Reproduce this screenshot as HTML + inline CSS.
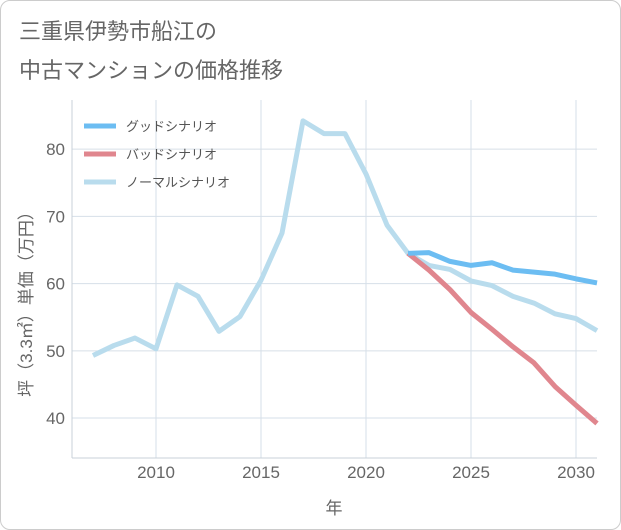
<!DOCTYPE html>
<html><head><meta charset="utf-8"><style>
body{margin:0;background:#fff;font-family:"Liberation Sans","Noto Sans CJK JP",sans-serif;}
#wrap{position:relative;width:619px;height:528px;border:1px solid #ccc;border-radius:10px;background:#fff;overflow:hidden}
.t{position:absolute;left:18px;font-size:22px;color:#666;}
</style></head><body>
<div id="wrap">
<div class="t" style="top:13px">三重県伊勢市船江の</div>
<div class="t" style="top:52px">中古マンションの価格推移</div>
<svg id="c" width="621" height="530" style="position:absolute;left:-1px;top:-1px"></svg>
</div>
<script>
const years=[2007,2008,2009,2010,2011,2012,2013,2014,2015,2016,2017,2018,2019,2020,2021,2022,2023,2024,2025,2026,2027,2028,2029,2030,2031];
const normal=[49.3,50.8,51.9,50.3,59.8,58.1,52.9,55.1,60.5,67.5,84.2,82.3,82.3,76.3,68.7,64.5,62.7,62.1,60.4,59.7,58.1,57.1,55.5,54.8,53.0];
const fYears=[2022,2023,2024,2025,2026,2027,2028,2029,2030,2031];
const good=[64.5,64.6,63.3,62.7,63.1,62.0,61.7,61.4,60.7,60.1];
const bad=[64.5,62.0,59.1,55.7,53.2,50.6,48.2,44.7,41.9,39.2];
const xTicks=[2010,2015,2020,2025,2030];
const yTicks=[40,50,60,70,80];
const L=72,R=597,T=100,B=458;
const x=v=>L+(v-2006)*(R-L)/25;
const y=v=>B-(v-34.06)*(B-T)/(87.3-34.06);
const svg=document.getElementById('c');const NS='http://www.w3.org/2000/svg';
function mk(t,a,p){const e=document.createElementNS(NS,t);for(const k in a)e.setAttribute(k,a[k]);(p||svg).appendChild(e);return e;}
const grid=mk('g',{});


xTicks.forEach(v=>{mk('line',{x1:x(v),x2:x(v),y1:T,y2:B,stroke:'#d6dfe8'},grid);
const t=mk('text',{x:x(v),y:478,'text-anchor':'middle','font-size':17,fill:'#666'});t.textContent=v;

});
yTicks.forEach(v=>{mk('line',{x1:L,x2:R,y1:y(v),y2:y(v),stroke:'#d6dfe8'},grid);
const t=mk('text',{x:65,y:y(v)+6,'text-anchor':'end','font-size':17,fill:'#666'});t.textContent=v;

});
mk('line',{x1:L,x2:L,y1:T,y2:B,stroke:'#c8d0d8'});
mk('line',{x1:L,x2:R,y1:B,y2:B,stroke:'#c8d0d8'});
const xt=mk('text',{x:334,y:514,'text-anchor':'middle','font-size':17,fill:'#666'});xt.textContent='年';


const yt=mk('text',{x:0,y:0,'text-anchor':'middle','font-size':17,fill:'#666',transform:'translate(32,300) rotate(-90)'});yt.textContent='坪（3.3㎡）単価（万円）';


function line(xs,vs,c,name){const p=mk('polyline',{points:xs.map((v,i)=>x(v)+','+y(vs[i])).join(' '),fill:'none',stroke:c,'stroke-width':5,'stroke-linejoin':'round'});

}
line(years,normal,'#b9dced','normal-line');
line(fYears,bad,'#e0868e','bad-line');
line(fYears,good,'#6cbdf2','good-line');
const leg=[['グッドシナリオ','#6cbdf2'],['バッドシナリオ','#e0868e'],['ノーマルシナリオ','#b9dced']];
leg.forEach((d,i)=>{const g=mk('g',{});


mk('line',{x1:84,x2:116,y1:126+i*28,y2:126+i*28,stroke:d[1],'stroke-width':5},g);
const t=mk('text',{x:126,y:131+i*28,'font-size':13,fill:'#555'},g);t.textContent=d[0];});
</script></body></html>
